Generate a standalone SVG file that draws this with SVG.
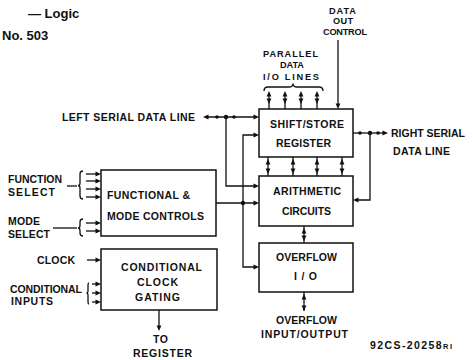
<svg xmlns="http://www.w3.org/2000/svg" xmlns:xlink="http://www.w3.org/1999/xlink" width="473" height="360" viewBox="0 0 473 360">
<defs>
<style>
.box{fill:#fff;stroke:#111;stroke-width:1.5}
.ln{fill:none;stroke:#111;stroke-width:1.3}
.t{font-family:"Liberation Sans",Arial,sans-serif;font-weight:bold;font-size:10.5px;fill:#111}
.s{font-size:9.2px}
.h{font-family:"Liberation Sans",Arial,sans-serif;font-weight:bold;font-size:13px;fill:#111}
.hd{fill:#111}
</style>
<path id="up" class="hd" d="M0,0 L-2.4,5.5 L2.4,5.5 Z"/>
<path id="dn" class="hd" d="M0,0 L-2.4,-5.5 L2.4,-5.5 Z"/>
<path id="lt" class="hd" d="M0,0 L5.5,-2.4 L5.5,2.4 Z"/>
<path id="rt" class="hd" d="M0,0 L-5.5,-2.4 L-5.5,2.4 Z"/>
</defs>
<rect width="473" height="360" fill="#fff"/>

<g id="header">
<text class="h" x="28" y="18">— Logic</text>
<text class="h" x="2" y="40">No. 503</text>
</g>

<g id="shift-store-register">
<rect class="box" x="259" y="109" width="94" height="48"/>
<text class="t" x="270" y="127.5" textLength="74" lengthAdjust="spacing">SHIFT/STORE</text>
<text class="t" x="276" y="146.5" textLength="55" lengthAdjust="spacing">REGISTER</text>
</g>

<g id="arithmetic-circuits">
<rect class="box" x="259" y="176" width="94" height="50"/>
<text class="t" x="273" y="194.5" textLength="68" lengthAdjust="spacing">ARITHMETIC</text>
<text class="t" x="282" y="214.5" textLength="49" lengthAdjust="spacing">CIRCUITS</text>
</g>

<g id="overflow-io">
<rect class="box" x="259" y="243" width="94" height="49"/>
<text class="t" x="276" y="261" textLength="61" lengthAdjust="spacing">OVERFLOW</text>
<text class="t" x="294" y="279.5" textLength="23" lengthAdjust="spacing">I/O</text>
</g>

<g id="functional-mode-controls">
<rect class="box" x="101" y="170" width="115" height="66"/>
<text class="t" x="107" y="198.5" textLength="83" lengthAdjust="spacing">FUNCTIONAL &amp;</text>
<text class="t" x="107" y="219.5" textLength="97" lengthAdjust="spacing">MODE CONTROLS</text>
</g>

<g id="conditional-clock-gating">
<rect class="box" x="101" y="249" width="116" height="61"/>
<text class="t" x="121" y="271" textLength="81" lengthAdjust="spacing">CONDITIONAL</text>
<text class="t" x="137" y="286" textLength="41" lengthAdjust="spacing">CLOCK</text>
<text class="t" x="135" y="300.5" textLength="45" lengthAdjust="spacing">GATING</text>
</g>

<g id="labels">
<text class="t s" x="329" y="14" textLength="27" lengthAdjust="spacing">DATA</text>
<text class="t s" x="333" y="24.4" textLength="20" lengthAdjust="spacing">OUT</text>
<text class="t s" x="323" y="35" textLength="44" lengthAdjust="spacing">CONTROL</text>
<text class="t s" x="263" y="57" textLength="55" lengthAdjust="spacing">PARALLEL</text>
<text class="t s" x="280" y="68" textLength="24" lengthAdjust="spacing">DATA</text>
<text class="t s" x="263" y="80" textLength="56" lengthAdjust="spacing">I/O LINES</text>
<text class="t" x="62" y="121" textLength="133" lengthAdjust="spacing">LEFT SERIAL DATA LINE</text>
<text class="t" x="391" y="137" textLength="74" lengthAdjust="spacing">RIGHT SERIAL</text>
<text class="t" x="393" y="154.5" textLength="57" lengthAdjust="spacing">DATA LINE</text>
<text class="t" x="8" y="183" textLength="54" lengthAdjust="spacing">FUNCTION</text>
<text class="t" x="8" y="195.5" textLength="47" lengthAdjust="spacing">SELECT</text>
<text class="t" x="8" y="224.5" textLength="32" lengthAdjust="spacing">MODE</text>
<text class="t" x="8" y="237.5" textLength="42" lengthAdjust="spacing">SELECT</text>
<text class="t" x="37" y="263.5" textLength="38" lengthAdjust="spacing">CLOCK</text>
<text class="t" x="10" y="292.5" textLength="72" lengthAdjust="spacing">CONDITIONAL</text>
<text class="t" x="11" y="304.5" textLength="42" lengthAdjust="spacing">INPUTS</text>
<text class="t" x="153" y="343" textLength="15" lengthAdjust="spacing">TO</text>
<text class="t" x="133" y="357" textLength="59" lengthAdjust="spacing">REGISTER</text>
<text class="t" x="276" y="323.5" textLength="61" lengthAdjust="spacing">OVERFLOW</text>
<text class="t" x="261" y="337.5" textLength="87" lengthAdjust="spacing">INPUT/OUTPUT</text>
<text class="t" x="370" y="349" font-size="9.5" textLength="82" lengthAdjust="spacing">92CS-20258<tspan font-size="7.5">RI</tspan></text>
</g>

<g id="connectors">
<!-- data out control -->
<line class="ln" x1="338" y1="40" x2="338" y2="106"/>
<use href="#dn" x="338" y="109"/>
<!-- parallel brace -->
<path class="ln" d="M264,91 Q264,87 268,87 L289,87 Q293,87 293,83.5 Q293,87 297,87 L319,87 Q323,87 323,91"/>
<!-- parallel I/O double arrows -->
<g>
<line class="ln" x1="269" y1="93" x2="269" y2="109"/><use href="#up" x="269" y="91"/><use href="#dn" x="269" y="104"/>
<line class="ln" x1="285" y1="93" x2="285" y2="109"/><use href="#up" x="285" y="91"/><use href="#dn" x="285" y="104"/>
<line class="ln" x1="301" y1="93" x2="301" y2="109"/><use href="#up" x="301" y="91"/><use href="#dn" x="301" y="104"/>
<line class="ln" x1="317" y1="93" x2="317" y2="109"/><use href="#up" x="317" y="91"/><use href="#dn" x="317" y="104"/>
</g>
<!-- register <-> arithmetic -->
<g>
<line class="ln" x1="268" y1="157" x2="268" y2="176"/><use href="#up" x="268" y="159"/><use href="#dn" x="268" y="174"/>
<line class="ln" x1="293" y1="157" x2="293" y2="176"/><use href="#up" x="293" y="159"/><use href="#dn" x="293" y="174"/>
<line class="ln" x1="317" y1="157" x2="317" y2="176"/><use href="#up" x="317" y="159"/><use href="#dn" x="317" y="174"/>
<line class="ln" x1="342" y1="157" x2="342" y2="176"/><use href="#up" x="342" y="159"/><use href="#dn" x="342" y="174"/>
</g>
<!-- arithmetic <-> overflow -->
<line class="ln" x1="304" y1="226" x2="304" y2="243"/><use href="#up" x="304" y="228"/><use href="#dn" x="304" y="241"/>
<!-- overflow <-> outside -->
<line class="ln" x1="304" y1="292" x2="304" y2="311"/><use href="#up" x="304" y="294"/><use href="#dn" x="304" y="311"/>
<!-- left serial data line -->
<line class="ln" x1="205" y1="117" x2="256" y2="117"/>
<use href="#lt" x="203" y="117"/>
<use href="#rt" x="259" y="117"/>
<circle class="hd" cx="217" cy="117" r="1.8"/>
<circle class="hd" cx="226" cy="117" r="2.2"/>
<circle class="hd" cx="234" cy="117" r="1.8"/>
<polyline class="ln" points="226,117 226,186 256,186"/>
<use href="#rt" x="259" y="186"/>
<!-- right serial data line -->
<line class="ln" x1="353" y1="133" x2="385" y2="133"/>
<use href="#rt" x="388" y="133"/>
<circle class="hd" cx="360" cy="133" r="1.8"/>
<circle class="hd" cx="370" cy="133" r="2.2"/>
<circle class="hd" cx="378" cy="133" r="1.8"/>
<polyline class="ln" points="370,133 370,200 356,200"/>
<use href="#lt" x="353" y="200"/>
<!-- function/mode controls outputs -->
<line class="ln" x1="216" y1="203" x2="256" y2="203"/>
<use href="#rt" x="259" y="203"/>
<circle class="hd" cx="243" cy="203" r="2.2"/>
<polyline class="ln" points="256,135 243,135 243,267 256,267"/>
<use href="#rt" x="259" y="135"/>
<use href="#rt" x="259" y="267"/>
<!-- function select inputs -->
<line class="ln" x1="67" y1="186" x2="77" y2="186"/>
<path class="ln" d="M83,171 Q80,171 80,174 L80,183 Q80,185.5 78,185.5 Q80,185.5 80,188 L80,196 Q80,199 83,199"/>
<line class="ln" x1="86" y1="174" x2="98" y2="174"/><use href="#rt" x="101" y="174"/>
<line class="ln" x1="86" y1="181" x2="98" y2="181"/><use href="#rt" x="101" y="181"/>
<line class="ln" x1="86" y1="189" x2="98" y2="189"/><use href="#rt" x="101" y="189"/>
<line class="ln" x1="86" y1="197" x2="98" y2="197"/><use href="#rt" x="101" y="197"/>
<!-- mode select inputs -->
<line class="ln" x1="53" y1="228" x2="77" y2="228"/>
<path class="ln" d="M83,219 Q80,219 80,222 L80,225.5 Q80,228 78,228 Q80,228 80,230.5 L80,233 Q80,236 83,236"/>
<line class="ln" x1="86" y1="223" x2="98" y2="223"/><use href="#rt" x="101" y="223"/>
<line class="ln" x1="86" y1="231" x2="98" y2="231"/><use href="#rt" x="101" y="231"/>
<!-- clock -->
<line class="ln" x1="87" y1="260" x2="98" y2="260"/><use href="#rt" x="101" y="260"/>
<!-- conditional inputs -->
<path class="ln" d="M89,283 Q88,283 88,285 L88,291 Q88,293 86.5,293 Q88,293 88,295 L88,302 Q88,304 89,304"/>
<line class="ln" x1="92" y1="284" x2="98" y2="284"/><use href="#rt" x="101" y="284"/>
<line class="ln" x1="92" y1="293" x2="98" y2="293"/><use href="#rt" x="101" y="293"/>
<line class="ln" x1="92" y1="302" x2="98" y2="302"/><use href="#rt" x="101" y="302"/>
<!-- to register -->
<line class="ln" x1="159" y1="310" x2="159" y2="328"/><use href="#dn" x="159" y="331"/>
</g>
</svg>
